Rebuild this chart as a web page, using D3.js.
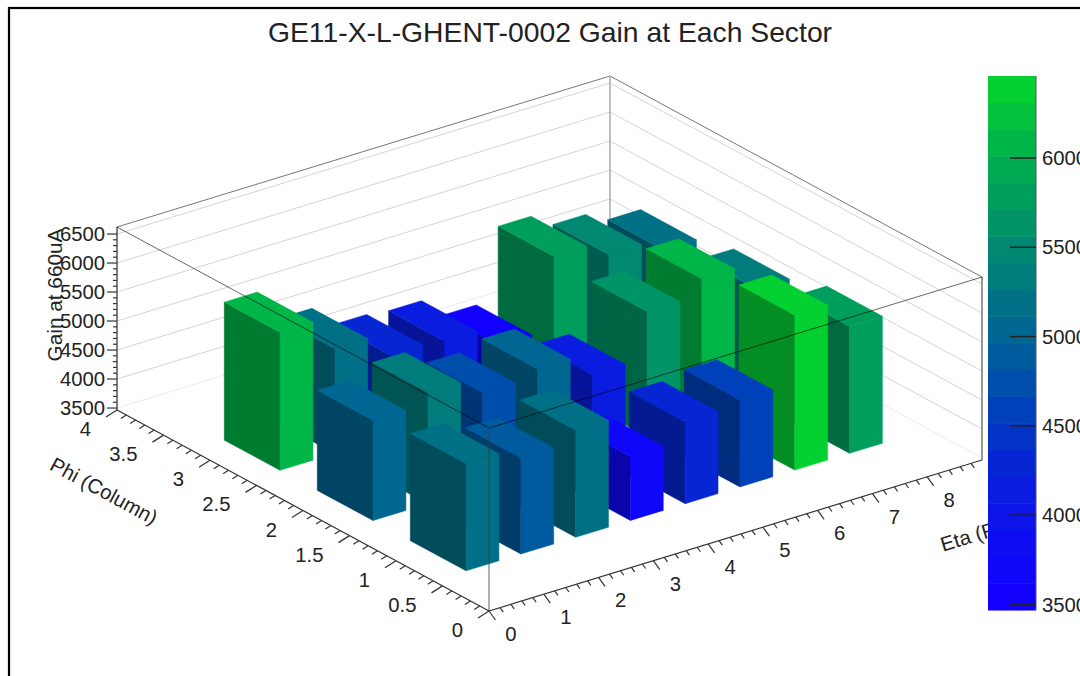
<!DOCTYPE html>
<html>
<head>
<meta charset="utf-8">
<style>
  html, body { margin: 0; padding: 0; background: #fff; overflow: hidden; }
  text { font-family: "Liberation Sans", Arial, sans-serif; fill: #222; }
</style>
<script src="https://cdnjs.cloudflare.com/ajax/libs/d3/7.8.5/d3.min.js"></script>
</head>
<body>
<svg id="chart" width="1080" height="676"></svg>
<script>
const etaBins = [1, 2, 3, 4, 5, 6, 7, 8]
const phiBins = [1, 2, 3]
const gainPhi1 = [5311, 5121, 5311, 4569, 4880, 4966, 6138, 5656]
const gainPhi2 = [5190, 5380, 5087, 5207, 4828, 5621, 5897, 5431]
const gainPhi3 = [5845, 5276, 4880, 4828, 4466, 5707, 5449, 5242]
const gains = [gainPhi1, gainPhi2, gainPhi3]

const etaTicks = [0, 1, 2, 3, 4, 5, 6, 7, 8]
const phiTicks = [0, 0.5, 1, 1.5, 2, 2.5, 3, 3.5, 4]
const zTicks = [3500, 4000, 4500, 5000, 5500, 6000, 6500]
const barTicks = [3500, 4000, 4500, 5000, 5500, 6000]

const palette = ['#1200ff', '#1006fa', '#0e0cf2', '#0c14ea', '#0a1ce0', '#0626d4', '#0232c6', '#0040ba', '#004eac', '#005a9e',
  '#006692', '#007086', '#007c7c', '#008872', '#009466', '#009e5c', '#00aa52', '#00b648', '#02c23e', '#04d032']

const svg = d3.select('#chart')
const labelSize = 20.3

// parallel projection, the box front bottom corner is the origin
const origin = [489, 611]
const etaX = d3.scaleLinear().domain([0, 9]).range([0, 493])
const etaY = d3.scaleLinear().domain([0, 9]).range([0, -151])
const phiX = d3.scaleLinear().domain([0, 4]).range([0, -372])
const phiY = d3.scaleLinear().domain([0, 4]).range([0, -201])
const zH = d3.scaleLinear().domain([3466, 6621]).range([0, 183])
const zMin = zH.domain()[0]
const zMax = zH.domain()[1]

const project = (eta, phi, z) => [
  origin[0] + etaX(eta) + phiX(phi),
  origin[1] + etaY(eta) + phiY(phi) - zH(z)
]
const line = d3.line()

const seg = (a, b, stroke, width) => svg.append('path')
  .attr('d', line([a, b]))
  .attr('fill', 'none')
  .attr('stroke', stroke)
  .attr('stroke-width', width)

// pad frame
svg.append('rect').attr('x', 9).attr('y', 8).attr('width', 1200).attr('height', 800)
  .attr('fill', 'none').attr('stroke', '#000').attr('stroke-width', 2.2)

// title
svg.append('text').attr('x', 550).attr('y', 42).attr('text-anchor', 'middle')
  .style('font-size', '28.3px').text('GE11-X-L-GHENT-0002 Gain at Each Sector')

// back walls grid
zTicks.forEach(function (z) {
  const c = z === 3500 ? '#ececec' : '#d4d4d4'
  seg(project(0, 4, z), project(9, 4, z), c, 1)
  seg(project(9, 4, z), project(9, 0, z), c, 1)
})

// back frame
seg(project(0, 4, zMax), project(9, 4, zMax), '#777', 1)
seg(project(9, 4, zMax), project(9, 0, zMax), '#777', 1)
seg(project(9, 4, zMin), project(9, 4, zMax), '#aaa', 1.5)
seg(project(0, 4, zMin), project(0, 4, zMax), '#555', 1.5)
seg(project(9, 0, zMin), project(9, 0, zMax), '#777', 1.5)

// bars, painted from the back to the front
const level = d3.scaleLinear().domain([4500, 5190, 6104]).range([0, 10.5, 19.6]).clamp(true)
const color = v => palette[Math.min(palette.length - 1, Math.floor(level(v)))]
const barStart = -0.4
const barWidth = 0.6
for (let p = phiBins.length - 1; p >= 0; p--) {
  for (let e = etaBins.length - 1; e >= 0; e--) {
    const v = gains[p][e]
    const e0 = etaBins[e] + barStart
    const e1 = e0 + barWidth
    const p0 = phiBins[p] + barStart
    const p1 = p0 + barWidth
    const c = color(v)
    const rgb = d3.rgb(c)
    const dark = d3.rgb(rgb.r * 0.68, rgb.g * 0.68, rgb.b * 0.68).formatHex()
    const face = (pts, fill) => svg.append('path')
      .attr('d', line(pts) + 'Z')
      .attr('fill', fill)
      .attr('stroke', fill)
      .attr('stroke-width', 0.5)
    face([project(e0, p0, zMin), project(e0, p1, zMin), project(e0, p1, v), project(e0, p0, v)], dark)
    face([project(e0, p0, zMin), project(e1, p0, zMin), project(e1, p0, v), project(e0, p0, v)], c)
    face([project(e0, p0, v), project(e1, p0, v), project(e1, p1, v), project(e0, p1, v)], c)
  }
}

// front frame goes over the bars
seg(project(0, 4, zMax), project(0, 0, zMax), 'rgba(0,0,0,0.6)', 1)
seg(project(0, 0, zMax), project(9, 0, zMax), 'rgba(0,0,0,0.6)', 1)
seg(project(0, 0, zMin), project(0, 0, zMax), 'rgba(60,60,60,0.4)', 2)

// eta axis
const axisC = '#333'
seg(project(0, 0, zMin), project(9, 0, zMin), axisC, 1.2)
d3.range(0, 45).forEach(function (i) {
  const t = i / 5
  const pt = project(t, 0, zMin)
  const major = i % 5 === 0
  const k = major ? 1 : 0.5
  seg(pt, [pt[0] + 6.5 * k, pt[1] + 9 * k], axisC, 1.2)
})
etaTicks.forEach(function (t) {
  const pt = project(t, 0, zMin)
  svg.append('text').attr('x', pt[0] + 22).attr('y', pt[1] + 23)
    .attr('text-anchor', 'middle').attr('dominant-baseline', 'central')
    .style('font-size', labelSize + 'px').text(t)
})
const etaTitle = project(8.6, 0, zMin)
svg.append('text')
  .attr('transform', 'translate(' + (etaTitle[0] - 17) + ',' + (etaTitle[1] + 85) + ') rotate(-17)')
  .style('font-size', labelSize + 'px').text('Eta (Row)')

// phi axis
seg(project(0, 0, zMin), project(0, 4, zMin), axisC, 1.2)
d3.range(0, 41).forEach(function (i) {
  const t = i / 10
  const pt = project(0, t, zMin)
  const major = i % 5 === 0
  const k = major ? 1 : 0.5
  seg(pt, [pt[0] - 11 * k, pt[1] + 7 * k], axisC, 1.2)
})
phiTicks.forEach(function (t) {
  const pt = project(0, t, zMin)
  svg.append('text').attr('x', pt[0] - 26).attr('y', pt[1] + 19)
    .attr('text-anchor', 'end').attr('dominant-baseline', 'central')
    .style('font-size', labelSize + 'px').text(t)
})
svg.append('text')
  .attr('transform', 'translate(104,491) rotate(28.4)')
  .attr('text-anchor', 'middle').attr('dominant-baseline', 'central')
  .style('font-size', labelSize + 'px').text('Phi (Column)')

// z axis
d3.range(3500, 6501, 100).forEach(function (z) {
  const pt = project(0, 4, z)
  const k = z % 500 === 0 ? 10 : 4
  seg(pt, [pt[0] - k, pt[1]], axisC, 1.2)
})
zTicks.forEach(function (z) {
  const pt = project(0, 4, z)
  svg.append('text').attr('x', pt[0] - 12).attr('y', pt[1])
    .attr('text-anchor', 'end').attr('dominant-baseline', 'central')
    .style('font-size', labelSize + 'px').text(z)
})
svg.append('text')
  .attr('transform', 'translate(62,295) rotate(-90)')
  .attr('text-anchor', 'middle')
  .style('font-size', '20.8px').text('Gain at 660uA')

// colour bar on top of everything
const barY = d3.scaleLinear().domain([3500, 6000]).range([604.5, 158])
const bandStep = (6459 - 3469) / palette.length
const levels = palette.map((c, i) => 3469 + i * bandStep)
svg.append('g').selectAll('rect').data(levels).join('rect')
  .attr('x', 988)
  .attr('width', 48)
  .attr('y', d => barY(d + bandStep))
  .attr('height', d => barY(d) - barY(d + bandStep) + 0.5)
  .attr('fill', (d, i) => palette[i])
seg([1036, barY(3469)], [1036, barY(6459)], '#555', 1)
barTicks.forEach(function (t) {
  seg([1010, barY(t)], [1036, barY(t)], '#222', 1.5)
  svg.append('text').attr('x', 1042).attr('y', barY(t))
    .attr('dominant-baseline', 'central')
    .style('font-size', labelSize + 'px').text(t)
})
</script>
</body>
</html>
